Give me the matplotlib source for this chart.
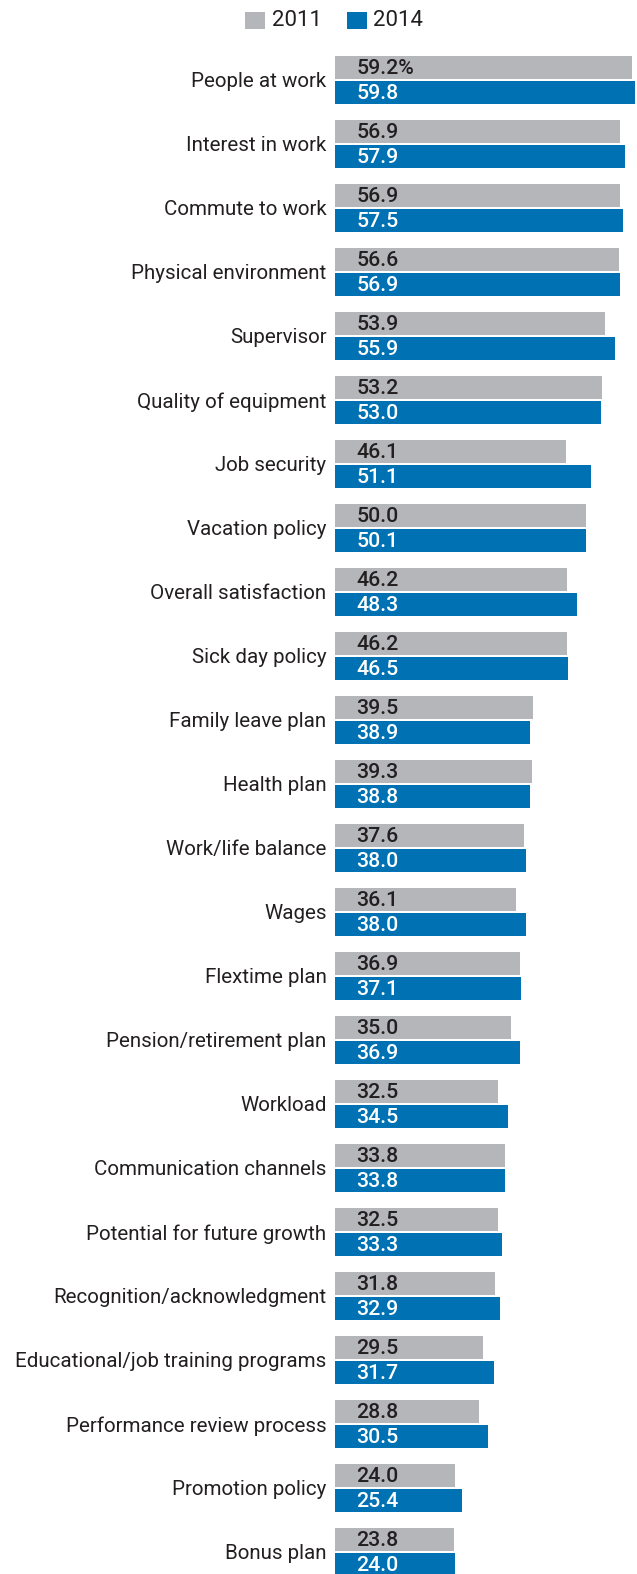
import matplotlib
matplotlib.use("Agg")
import matplotlib.pyplot as plt
from matplotlib.patches import Rectangle

categories = [
    "People at work", "Interest in work", "Commute to work", "Physical environment",
    "Supervisor", "Quality of equipment", "Job security", "Vacation policy",
    "Overall satisfaction", "Sick day policy", "Family leave plan", "Health plan",
    "Work/life balance", "Wages", "Flextime plan", "Pension/retirement plan",
    "Workload", "Communication channels", "Potential for future growth",
    "Recognition/acknowledgment", "Educational/job training programs",
    "Performance review process", "Promotion policy", "Bonus plan",
]
values_2011 = [59.2, 56.9, 56.9, 56.6, 53.9, 53.2, 46.1, 50.0, 46.2, 46.2, 39.5, 39.3,
               37.6, 36.1, 36.9, 35.0, 32.5, 33.8, 32.5, 31.8, 29.5, 28.8, 24.0, 23.8]
values_2014 = [59.8, 57.9, 57.5, 56.9, 55.9, 53.0, 51.1, 50.1, 48.3, 46.5, 38.9, 38.8,
               38.0, 38.0, 37.1, 36.9, 34.5, 33.8, 33.3, 32.9, 31.7, 30.5, 25.4, 24.0]
series_labels = ["2011", "2014"]

GRAY = "#b5b6b9"
BLUE = "#0071b3"
INK = "#231f20"

plt.rcParams["font.family"] = ["Roboto", "DejaVu Sans"]

W, H = 637, 1574
fig = plt.figure(figsize=(W / 100, H / 100), dpi=100)
x0 = 335
ax = fig.add_axes([x0 / W, 0, 1 - x0 / W, 1])

pitch = 64.0
first_center = 80.0
ax.set_ylim((H - first_center) / pitch, -first_center / pitch)
ax.set_xlim(0, 60.2)

ys = list(range(len(categories)))
h = 0.37
off = 0.195
ax.barh([y - off for y in ys], values_2011, height=h, color=GRAY, linewidth=0)
ax.barh([y + off for y in ys], values_2014, height=h, color=BLUE, linewidth=0)

for i, (a, b) in enumerate(zip(values_2011, values_2014)):
    ta = f"{a:.1f}%" if i == 0 else f"{a:.1f}"
    ax.text(4.2, i - off + 0.02, ta, color=INK, fontsize=15.3, fontweight="medium",
            va="center", ha="left")
    ax.text(4.2, i + off + 0.02, f"{b:.1f}", color="white", fontsize=15.3, fontweight="medium",
            va="center", ha="left")
    ax.text(-1.7, i + 0.03, categories[i], color=INK, fontsize=14.8, va="center", ha="right",
            clip_on=False)

ax.axis("off")

# legend drawn in figure pixel space
for (sx, tx, col, lab) in [(245, 272, GRAY, series_labels[0]), (347, 373, BLUE, series_labels[1])]:
    fig.patches.append(Rectangle((sx / W, 1 - 29 / H), 20 / W, 17 / H,
                                 transform=fig.transFigure, color=col, linewidth=0))
    fig.text(tx / W, 1 - 20.5 / H, lab, color=INK, fontsize=16, va="center", ha="left")

fig.savefig("out.png", dpi=100)
